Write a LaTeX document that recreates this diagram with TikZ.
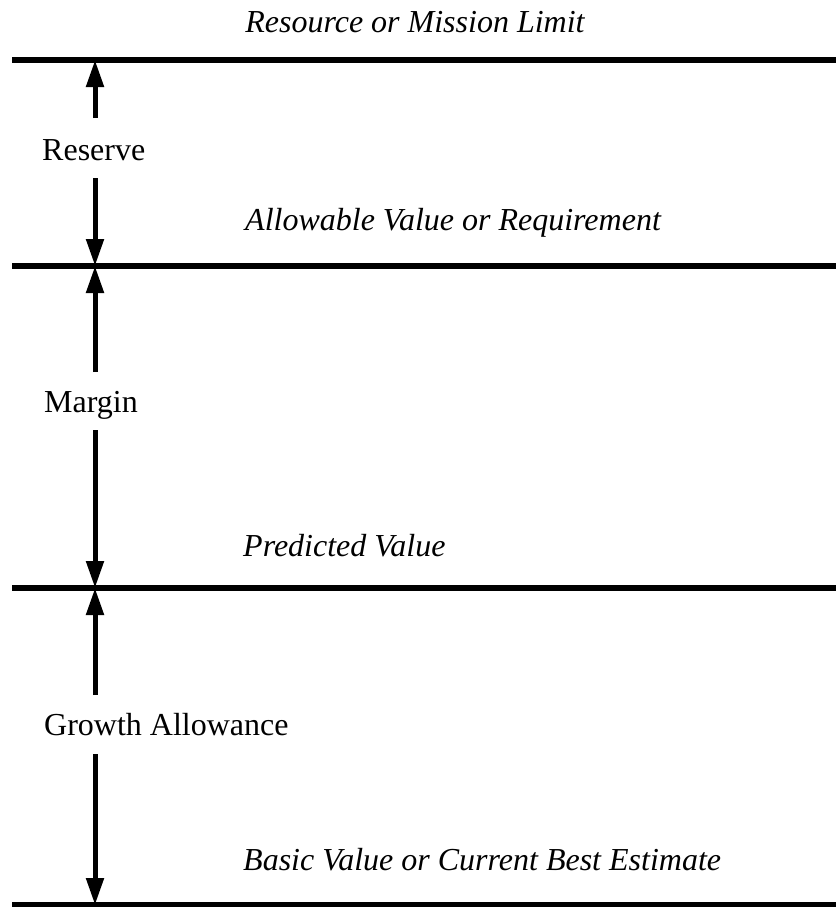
\documentclass[tikz,border=0pt]{standalone}
\usepackage{fontspec}
\setmainfont{Liberation Serif}
\usetikzlibrary{arrows.meta}
\begin{document}
\begin{tikzpicture}[x=1pt,y=-1pt,
  level/.style={line width=5.5pt},
  dim/.style={line width=5pt,-{Triangle[width=17pt,length=27pt]}},
  lab/.style={font=\fontsize{32}{36}\selectfont,inner sep=0pt},
  ilab/.style={font=\fontsize{32}{36}\selectfont\itshape,inner sep=0pt}]
\useasboundingbox (0,0) rectangle (836,907);
% levels
\coordinate (l1a) at (12,60);  \coordinate (l1b) at (836,60);
\coordinate (l2a) at (12,266); \coordinate (l2b) at (836,266);
\coordinate (l3a) at (12,588); \coordinate (l3b) at (836,588);
\coordinate (l4a) at (12,905); \coordinate (l4b) at (836,905);
\draw[level] (l1a) -- (l1b);
\draw[level] (l2a) -- (l2b);
\draw[level] (l3a) -- (l3b);
\draw[level] (l4a) -- (l4b);
% arrow points
\coordinate (t1) at (95,60);
\coordinate (t2) at (95,266);
\coordinate (t3) at (95,588);
\coordinate (t4) at (95,905);
\coordinate (r1) at (95,118); \coordinate (r2) at (95,178);
\coordinate (m1) at (95,372); \coordinate (m2) at (95,430);
\coordinate (g1) at (95,695); \coordinate (g2) at (95,754);
\draw[dim] (r1) -- (t1);
\draw[dim] (r2) -- (t2);
\draw[dim] (m1) -- (t2);
\draw[dim] (m2) -- (t3);
\draw[dim] (g1) -- (t3);
\draw[dim] (g2) -- (t4);
% labels
\node[lab,anchor=west] (reserve) at (42,150) {Reserve};
\node[lab,anchor=west] (margin) at (44,405) {Margin};
\node[lab,anchor=west] (growth) at (44,725) {Growth Allowance};
\node[ilab] (limit) at (415,22) {Resource or Mission Limit};
\node[ilab,anchor=west] (allow) at (245,223) {Allowable Value or Requirement};
\node[ilab,anchor=west] (pred) at (243,546) {Predicted Value};
\node[ilab,anchor=west] (basic) at (243,860) {Basic Value or Current Best Estimate};
\end{tikzpicture}
\end{document}
